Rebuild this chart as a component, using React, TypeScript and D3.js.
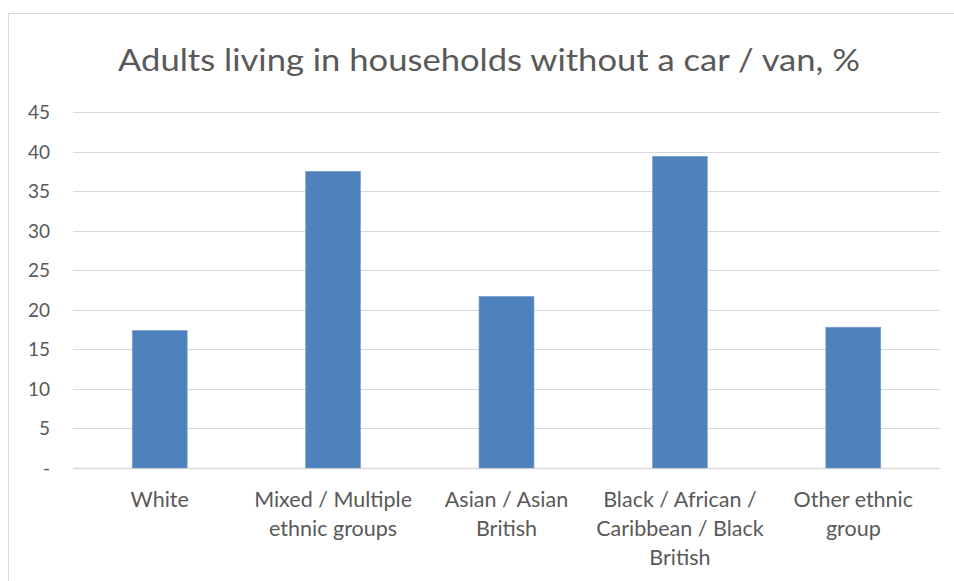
import React from "react";
import * as d3 from "d3";

const categories: string[][] = [
  ["White"],
  ["Mixed / Multiple", "ethnic groups"],
  ["Asian / Asian", "British"],
  ["Black / African /", "Caribbean / Black", "British"],
  ["Other ethnic", "group"],
];
const values: number[] = [17.4, 37.5, 21.7, 39.4, 17.8];
const yTicks: number[] = [0, 5, 10, 15, 20, 25, 30, 35, 40, 45];
const title = "Adults living in households without a car / van, %";

const W = 954;
const H = 581;
const left = 73;
const right = 940;
const top = 112;
const bottom = 468;
const FONT = "Lato, 'Open Sans', 'Liberation Sans', sans-serif";
const TEXT = "#595959";

export default function App() {
  const x = d3
    .scaleBand<number>()
    .domain(values.map((_, i) => i))
    .range([left, right])
    .padding(0);
  const y = d3.scaleLinear().domain([0, 45]).range([bottom, top]);
  const barW = x.bandwidth() * 0.317;

  return (
    <svg
      width={W}
      height={H}
      style={{ position: "absolute", left: 0, top: 0, background: "#fff" }}
    >
      <rect x={8.5} y={13.5} width={W} height={H} fill="#fff" stroke="#d9d9d9" strokeWidth={1} />
      <text
        x={489}
        y={71}
        textAnchor="middle"
        fontFamily={FONT}
        fontSize={31}
        fill={TEXT}
        textLength={742}
        lengthAdjust="spacingAndGlyphs"
      >
        {title}
      </text>
      {yTicks.map((t) => (
        <g key={t}>
          <line
            x1={left}
            x2={right}
            y1={Math.round(y(t)) + 0.5}
            y2={Math.round(y(t)) + 0.5}
            stroke="#d9d9d9"
            strokeWidth={t === 0 ? 1.5 : 1.2}
          />
          <text
            x={50}
            y={y(t) + 7}
            textAnchor="end"
            fontFamily={FONT}
            fontSize={19}
            fill={TEXT}
          >
            {t === 0 ? "-" : t}
          </text>
        </g>
      ))}
      {values.map((v, i) => {
        const cx = (x(i) as number) + x.bandwidth() / 2;
        return (
          <rect
            key={i}
            x={cx - barW / 2}
            y={y(v)}
            width={barW}
            height={y(0) - y(v)}
            fill="#4f81bd"
            stroke="#7ea3d3"
            strokeWidth={0.6}
          />
        );
      })}
      {categories.map((lines, i) => {
        const cx = (x(i) as number) + x.bandwidth() / 2;
        return (
          <text
            key={i}
            textAnchor="middle"
            fontFamily={FONT}
            fontSize={21.5}
            fill={TEXT}
          >
            {lines.map((l, j) => (
              <tspan key={j} x={cx} y={507 + j * 29}>
                {l}
              </tspan>
            ))}
          </text>
        );
      })}
    </svg>
  );
}
